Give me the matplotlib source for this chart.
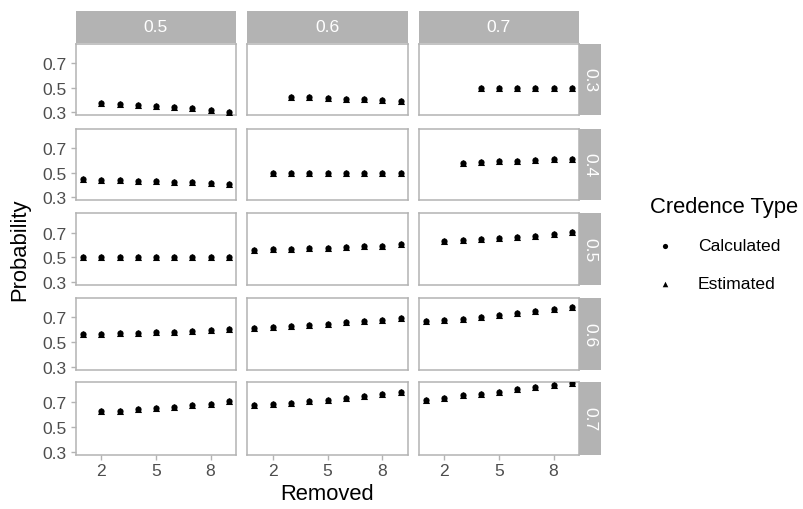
import numpy as np
import matplotlib
matplotlib.use("Agg")
import matplotlib.pyplot as plt

plt.rcParams["font.family"] = ["Liberation Sans", "DejaVu Sans"]

nan = np.nan
removed = [1, 2, 3, 4, 5, 6, 7, 8, 9]
col_levels = ["0.5", "0.6", "0.7"]
row_levels = ["0.3", "0.4", "0.5", "0.6", "0.7"]

# Calculated probability per panel (row level, column level), x = removed
calc_r03_c05 = [nan, 0.378, 0.369, 0.360, 0.352, 0.344, 0.333, 0.320, 0.306]
calc_r03_c06 = [nan, nan, 0.427, 0.422, 0.416, 0.411, 0.405, 0.400, 0.392]
calc_r03_c07 = [nan, nan, nan, 0.5, 0.5, 0.5, 0.5, 0.5, 0.5]
calc_r04_c05 = [0.449, 0.444, 0.439, 0.433, 0.428, 0.422, 0.420, 0.414, 0.406]
calc_r04_c06 = [nan, 0.5, 0.5, 0.5, 0.5, 0.5, 0.5, 0.5, 0.5]
calc_r04_c07 = [nan, nan, 0.579, 0.584, 0.590, 0.595, 0.601, 0.606, 0.614]
calc_r05_c05 = [0.5, 0.5, 0.5, 0.5, 0.5, 0.5, 0.5, 0.5, 0.5]
calc_r05_c06 = [0.563, 0.565, 0.571, 0.576, 0.579, 0.584, 0.590, 0.595, 0.606]
calc_r05_c07 = [nan, 0.632, 0.637, 0.648, 0.659, 0.665, 0.676, 0.686, 0.703]
calc_r06_c05 = [0.563, 0.565, 0.571, 0.576, 0.579, 0.584, 0.590, 0.598, 0.609]
calc_r06_c06 = [0.610, 0.618, 0.629, 0.637, 0.648, 0.659, 0.670, 0.681, 0.697]
calc_r06_c07 = [0.672, 0.677, 0.688, 0.702, 0.718, 0.734, 0.751, 0.767, 0.781]
calc_r07_c05 = [nan, 0.627, 0.629, 0.643, 0.651, 0.659, 0.676, 0.686, 0.703]
calc_r07_c06 = [0.672, 0.680, 0.692, 0.704, 0.718, 0.732, 0.748, 0.762, 0.775]
calc_r07_c07 = [0.711, 0.733, 0.752, 0.765, 0.779, 0.798, 0.817, 0.836, 0.847]

# Estimated values sit on top of the calculated ones in the picture
est_r03_c05 = list(calc_r03_c05)
est_r03_c06 = list(calc_r03_c06)
est_r03_c07 = list(calc_r03_c07)
est_r04_c05 = list(calc_r04_c05)
est_r04_c06 = list(calc_r04_c06)
est_r04_c07 = list(calc_r04_c07)
est_r05_c05 = list(calc_r05_c05)
est_r05_c06 = list(calc_r05_c06)
est_r05_c07 = list(calc_r05_c07)
est_r06_c05 = list(calc_r06_c05)
est_r06_c06 = list(calc_r06_c06)
est_r06_c07 = list(calc_r06_c07)
est_r07_c05 = list(calc_r07_c05)
est_r07_c06 = list(calc_r07_c06)
est_r07_c07 = list(calc_r07_c07)

calc_grid = [
    [calc_r03_c05, calc_r03_c06, calc_r03_c07],
    [calc_r04_c05, calc_r04_c06, calc_r04_c07],
    [calc_r05_c05, calc_r05_c06, calc_r05_c07],
    [calc_r06_c05, calc_r06_c06, calc_r06_c07],
    [calc_r07_c05, calc_r07_c06, calc_r07_c07],
]
est_grid = [
    [est_r03_c05, est_r03_c06, est_r03_c07],
    [est_r04_c05, est_r04_c06, est_r04_c07],
    [est_r05_c05, est_r05_c06, est_r05_c07],
    [est_r06_c05, est_r06_c06, est_r06_c07],
    [est_r07_c05, est_r07_c06, est_r07_c07],
]

x_ticks = [2, 5, 8]
y_ticks = [0.3, 0.5, 0.7]

W, H = 804, 510
fig = plt.figure(figsize=(W / 100, H / 100), dpi=100)
fig.patch.set_facecolor("white")

def px_axes(x0, y0, x1, y1):
    return fig.add_axes([x0 / W, 1 - y1 / H, (x1 - x0) / W, (y1 - y0) / H])

col_x = [(76, 236), (247, 408), (419, 579)]
row_y = [(45, 116), (129.5, 201), (214, 286), (298.5, 371), (383, 456)]
border = "#B3B3B3"
tick_col = "#4D4D4D"
small = 12.6
big = 15.8

for r in range(5):
    for c in range(3):
        x0, x1 = col_x[c]
        y0, y1 = row_y[r]
        ax = px_axes(x0, y0, x1, y1)
        ax.scatter(removed, calc_grid[r][c], marker="o", s=20, color="black",
                   linewidths=0, zorder=3)
        ax.scatter(removed, est_grid[r][c], marker="^", s=26, color="black",
                   linewidths=0, zorder=4)
        ax.set_xlim(0.6, 9.4)
        ax.set_ylim(0.278, 0.857)
        ax.set_xticks(x_ticks)
        ax.set_yticks(y_ticks)
        for sp in ax.spines.values():
            sp.set_color(border)
            sp.set_linewidth(1.1)
        ax.tick_params(axis="both", color=border, length=3.5, width=1.0,
                       labelcolor=tick_col, labelsize=small, pad=2)
        ax.tick_params(axis="y", pad=3.5)
        if c == 0:
            ax.set_yticklabels(["0.3", "0.5", "0.7"])
        else:
            ax.tick_params(axis="y", length=0, labelleft=False)
        if r == 4:
            ax.set_xticklabels(["2", "5", "8"])
        else:
            ax.tick_params(axis="x", length=0, labelbottom=False)

# top strips
for c in range(3):
    x0, x1 = col_x[c]
    sax = px_axes(x0, 12, x1, 44)
    sax.set_facecolor("#B3B3B3")
    sax.set_xticks([]); sax.set_yticks([])
    for sp in sax.spines.values():
        sp.set_visible(False)
    sax.text(0.5, 0.5, col_levels[c], color="white", fontsize=small,
             ha="center", va="center", transform=sax.transAxes)

# right strips
for r in range(5):
    y0, y1 = row_y[r]
    sax = px_axes(579, y0, 601, y1)
    sax.set_facecolor("#B3B3B3")
    sax.set_xticks([]); sax.set_yticks([])
    for sp in sax.spines.values():
        sp.set_visible(False)
    sax.text(0.5, 0.5, row_levels[r], color="white", fontsize=small, rotation=-90,
             ha="center", va="center", transform=sax.transAxes)

fig.text(20 / W, 1 - 250 / H, "Probability", rotation=90, fontsize=big,
         ha="center", va="center", color="black")
fig.text(327 / W, 1 - 495 / H, "Removed", fontsize=big,
         ha="center", va="center", color="black")

# legend
fig.text(650 / W, 1 - 208 / H, "Credence Type", fontsize=big,
         ha="left", va="center", color="black")
lax = fig.add_axes([0, 0, 1, 1], facecolor="none")
lax.set_xlim(0, W); lax.set_ylim(H, 0); lax.axis("off")
lax.scatter([665], [247], marker="o", s=14, color="black", linewidths=0)
lax.scatter([665], [285], marker="^", s=16, color="black", linewidths=0)
lax.text(698, 247, "Calculated", fontsize=small, va="center", ha="left", color="black")
lax.text(698, 285, "Estimated", fontsize=small, va="center", ha="left", color="black")

fig.savefig("out.png", dpi=100)
